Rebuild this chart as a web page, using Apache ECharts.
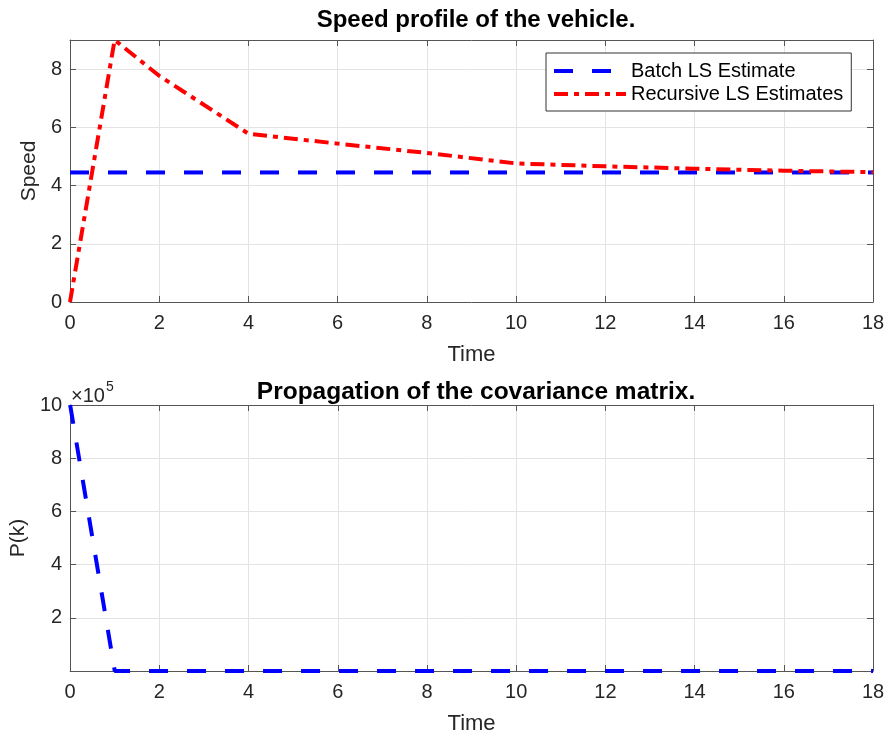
<!DOCTYPE html>
<html>
<head>
<meta charset="utf-8">
<script src="https://cdn.jsdelivr.net/npm/echarts@6/dist/echarts.min.js"></script>
<style>
  html, body { margin: 0; padding: 0; background: #fff; }
  #chart { width: 890px; height: 740px; }
</style>
</head>
<body>
<div id="chart"></div>
<script>
// values
const batchTime = [0, 18];
const batchSpeed = [4.45, 4.45];

const recTime = [0, 1, 2, 4, 6, 8, 10, 12, 14, 16, 18];
const recSpeed = [0, 9.0, 7.77, 5.78, 5.44, 5.12, 4.76, 4.66, 4.58, 4.51, 4.46];

const covTime = [0, 1, 2, 3, 4, 5, 6, 7, 8, 9, 10, 11, 12, 13, 14, 15, 16, 17, 18];
const covP = [1000000, 1, 0.5, 0.33, 0.25, 0.2, 0.17, 0.14, 0.12, 0.11, 0.1, 0.09, 0.08, 0.08, 0.07, 0.07, 0.06, 0.06, 0.05];

const zip = (xs, ys) => xs.map((x, i) => [x, ys[i]]);

const FONT = 'Liberation Sans, Arial, sans-serif';
const AX = '#262626';
const LINEC = '#555';
const GRIDC = '#e3e3e3';

const chart = echarts.init(document.getElementById('chart'));

// main axes (bottom) with labels
const baseX = (gi, name) => ({
    type: 'value', gridIndex: gi, min: 0, max: 18, interval: 2,
    name: name, nameLocation: 'middle', nameGap: 42,
    nameTextStyle: { fontFamily: FONT, fontSize: 22, color: AX },
    axisLine: { show: true, onZero: false, lineStyle: { color: LINEC, width: 1 } },
    axisTick: { show: true, inside: true, length: 6, lineStyle: { color: LINEC } },
    axisLabel: { fontFamily: FONT, fontSize: 20, color: AX, margin: 11 },
    splitLine: { show: true, lineStyle: { color: GRIDC, width: 1 } }
});
// mirror axes (top / right), ticks only
const mirrorX = (gi) => ({
    type: 'value', gridIndex: gi, min: 0, max: 18, interval: 2, position: 'top',
    axisLine: { show: true, onZero: false, lineStyle: { color: LINEC, width: 1 } },
    axisTick: { show: true, inside: true, length: 6, lineStyle: { color: LINEC } },
    axisLabel: { show: false }, splitLine: { show: false }
});
const mirrorY = (gi, max, interval) => ({
    type: 'value', gridIndex: gi, min: 0, max: max, interval: interval, position: 'right',
    axisLine: { show: true, onZero: false, lineStyle: { color: LINEC } },
    axisTick: { show: true, inside: true, length: 6, lineStyle: { color: LINEC } },
    axisLabel: { show: false }, splitLine: { show: false }
});

const option = {
    animation: false,
    backgroundColor: '#fff',
    title: [
        { text: 'Speed profile of the vehicle.', left: 471, top: 3, textAlign: 'center',
          textStyle: { fontFamily: FONT, fontSize: 24, fontWeight: 'bold', color: '#000' } },
        { text: 'Propagation of the covariance matrix.', left: 471, top: 375, textAlign: 'center',
          textStyle: { fontFamily: FONT, fontSize: 24.5, fontWeight: 'bold', color: '#000' } }
    ],
    grid: [
        { left: 70, right: 17, top: 40, height: 262 },
        { left: 70, right: 17, top: 405, height: 266 }
    ],
    legend: {
        data: ['Batch LS Estimate', 'Recursive LS Estimates'],
        orient: 'vertical', left: 546, top: 53,
        itemWidth: 72, itemHeight: 14, itemGap: 3,
        padding: [8, 8, 7, 6],
        borderColor: '#333', borderWidth: 1, backgroundColor: '#fff',
        itemStyle: { opacity: 0 },
        lineStyle: { width: 4 },
        textStyle: { fontFamily: FONT, fontSize: 20, color: '#000' }
    },
    xAxis: [
        baseX(0, 'Time'),
        baseX(1, 'Time'),
        mirrorX(0),
        mirrorX(1)
    ],
    yAxis: [
        {
            type: 'value', gridIndex: 0, min: 0, max: 9, interval: 2,
            name: 'Speed', nameLocation: 'middle', nameGap: 30,
            nameTextStyle: { fontFamily: FONT, fontSize: 21, color: AX },
            axisLine: { show: true, onZero: false, lineStyle: { color: LINEC } },
            axisTick: { show: true, inside: true, length: 6, lineStyle: { color: LINEC } },
            axisLabel: { fontFamily: FONT, fontSize: 20, color: AX, margin: 8, showMaxLabel: false },
            splitLine: { show: true, lineStyle: { color: GRIDC } }
        },
        {
            type: 'value', gridIndex: 1, min: 0, max: 1000000, interval: 200000,
            name: 'P(k)', nameLocation: 'middle', nameGap: 40,
            nameTextStyle: { fontFamily: FONT, fontSize: 21, color: AX },
            axisLine: { show: true, onZero: false, lineStyle: { color: LINEC } },
            axisTick: { show: true, inside: true, length: 6, lineStyle: { color: LINEC } },
            axisLabel: { fontFamily: FONT, fontSize: 20, color: AX, margin: 8,
                formatter: v => v === 0 ? '' : String(v / 100000) },
            splitLine: { show: true, lineStyle: { color: GRIDC } }
        },
        mirrorY(0, 9, 2),
        mirrorY(1, 1000000, 200000)
    ],
    graphic: [
        {
            type: 'text', left: 71, top: 380,
            style: {
                text: '{a|×10}{b|5}',
                rich: {
                    a: { fontFamily: FONT, fontSize: 20, fill: AX, verticalAlign: 'bottom', padding: [6, 0, 0, 0] },
                    b: { fontFamily: FONT, fontSize: 14, fill: AX, verticalAlign: 'top', padding: [0, 0, 8, 1] }
                }
            }
        }
    ],
    series: [
        {
            name: 'Batch LS Estimate', type: 'line', xAxisIndex: 0, yAxisIndex: 0,
            data: zip(batchTime, batchSpeed), showSymbol: false, symbol: 'none', clip: false,
            lineStyle: { color: '#0000ff', width: 4, type: [19, 19] },
            itemStyle: { color: '#0000ff' }
        },
        {
            name: 'Recursive LS Estimates', type: 'line', xAxisIndex: 0, yAxisIndex: 0,
            data: zip(recTime, recSpeed), showSymbol: false, symbol: 'none', clip: false,
            lineStyle: { color: '#ff0000', width: 4, type: [14, 6, 5, 6] },
            itemStyle: { color: '#ff0000' }
        },
        {
            name: 'P', type: 'line', xAxisIndex: 1, yAxisIndex: 1,
            data: zip(covTime, covP), showSymbol: false, symbol: 'none', clip: false,
            lineStyle: { color: '#0000ff', width: 4, type: [19, 19] },
            itemStyle: { color: '#0000ff' }
        }
    ]
};

chart.setOption(option);
</script>
</body>
</html>
